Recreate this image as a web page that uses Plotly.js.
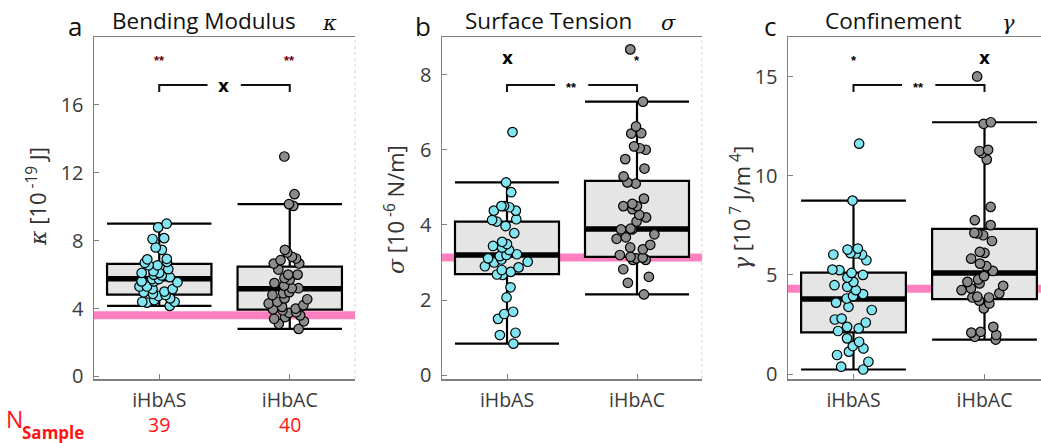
<!DOCTYPE html>
<html>
<head>
<meta charset="utf-8">
<script src="https://cdn.plot.ly/plotly-3.0.1.min.js"></script>
<style>html,body{margin:0;padding:0;background:#fff;} #chart{width:1041px;height:443px;}</style>
</head>
<body>
<div id="chart"></div>
<script>
// ---------------- DATA ----------------
const categories = ['iHbAS', 'iHbAC'];
const sampleCounts = [39, 40];

// Bending modulus kappa [1e-19 J]
const kappa_AS = [9.0, 8.78, 8.15, 8.1, 7.6, 7.46, 6.93, 6.9, 6.7, 6.75, 6.55, 6.55, 6.32, 6.1, 6.1, 6.0, 5.95, 5.74, 5.74, 5.6, 5.6, 5.55, 5.3, 5.3, 5.15, 5.15, 4.87, 4.8, 4.74, 4.6, 4.4, 4.4, 4.35, 4.16, 4.5, 5.0, 6.2, 5.85, 4.95];
const kappa_AC = [12.96, 10.74, 10.15, 10.05, 7.46, 7.3, 7.05, 6.95, 6.85, 6.65, 6.65, 6.0, 6.0, 5.8, 5.7, 5.35, 5.2, 5.2, 4.97, 4.9, 4.6, 4.55, 4.4, 4.3, 4.1, 4.0, 3.95, 3.78, 3.75, 3.6, 3.5, 3.4, 3.25, 3.1, 2.8, 5.5, 4.8, 3.9, 6.3, 4.2];
const kappaQ1 = [4.82, 3.94];
const kappaMedian = [5.75, 5.16];
const kappaQ3 = [6.63, 6.47];
const kappaLowerWhisker = [4.16, 2.8];
const kappaUpperWhisker = [9.0, 10.15];

// Surface tension sigma [1e-6 N/m]
const sigma_AS = [6.47, 5.13, 4.87, 4.5, 4.5, 4.47, 4.38, 4.38, 4.13, 4.09, 4.15, 3.97, 3.78, 3.49, 3.44, 3.4, 3.33, 3.22, 3.2, 3.17, 3.11, 3.08, 3.02, 2.9, 2.87, 2.8, 2.75, 2.68, 2.67, 2.34, 2.07, 1.69, 1.63, 1.5, 1.13, 1.07, 0.84, 3.0, 3.55];
const sigma_AC = [8.67, 7.28, 6.62, 6.44, 6.43, 6.04, 6.09, 6.0, 5.75, 5.29, 5.13, 5.1, 4.56, 4.5, 4.5, 4.42, 4.27, 4.2, 4.09, 3.9, 3.88, 3.88, 3.67, 3.63, 3.47, 3.4, 3.35, 3.2, 3.15, 3.13, 3.11, 3.07, 3.07, 2.82, 2.62, 2.46, 2.15, 4.7, 3.75, 5.5];
const sigmaQ1 = [2.69, 3.15];
const sigmaMedian = [3.2, 3.89];
const sigmaQ3 = [4.09, 5.17];
const sigmaLowerWhisker = [0.84, 2.15];
const sigmaUpperWhisker = [5.13, 7.28];

// Confinement gamma [1e7 J/m^4]
const gamma_AS = [11.62, 8.75, 6.33, 6.28, 6.08, 6.03, 6.03, 5.74, 5.27, 5.24, 5.1, 4.87, 4.65, 4.48, 4.23, 4.03, 3.81, 3.93, 3.39, 3.23, 2.8, 2.75, 2.3, 2.38, 2.17, 1.63, 1.41, 1.29, 1.13, 0.96, 0.62, 0.37, 0.23, 5.0, 3.6, 2.6, 1.8, 4.4, 6.1];
const gamma_AC = [15.01, 12.62, 12.7, 11.25, 11.31, 11.15, 10.82, 8.43, 7.76, 7.51, 7.12, 7.09, 7.0, 6.71, 6.16, 6.11, 5.82, 5.57, 5.44, 4.94, 4.77, 4.65, 4.57, 4.32, 4.23, 4.07, 3.9, 3.86, 3.86, 3.56, 3.31, 2.38, 2.13, 2.09, 1.97, 1.88, 1.74, 5.2, 4.45, 3.7];
const gammaQ1 = [2.1, 3.78];
const gammaMedian = [3.79, 5.1];
const gammaQ3 = [5.12, 7.32];
const gammaLowerWhisker = [0.23, 1.74];
const gammaUpperWhisker = [8.75, 12.7];

// Reference (pink) levels per panel
const referenceLevels = [3.6, 3.13, 4.3];

// Significance labels: above each group and between groups
const sigAbove = [['**', '**'], ['x', '*'], ['*', 'x']];
const sigBetween = ['x', '**', '**'];

const panelTitles = ['Bending Modulus', 'Surface Tension', 'Confinement'];
const panelSymbols = ['κ', 'σ', 'γ'];
const panelLetters = ['a', 'b', 'c'];
const yTickVals = [[0, 4, 8, 12, 16], [0, 2, 4, 6, 8], [0, 5, 10, 15]];

// ---------------- STYLE / LAYOUT ----------------
const W = 1041, H = 443;
const px = v => v / W;
const py = v => 1 - v / H;
const CYAN = 'rgb(128,229,240)';
const GREY = 'rgb(140,140,140)';
const BOXFILL = 'rgb(229,229,229)';
const PINK = 'rgb(255,128,190)';
const AXC = 'rgb(128,128,128)';
const FONT = 'Open Sans';

const panels = [
  {ax: '', as: kappa_AS, ac: kappa_AC, q1: kappaQ1, med: kappaMedian, q3: kappaQ3, lo: kappaLowerWhisker, hi: kappaUpperWhisker},
  {ax: '2', as: sigma_AS, ac: sigma_AC, q1: sigmaQ1, med: sigmaMedian, q3: sigmaQ3, lo: sigmaLowerWhisker, hi: sigmaUpperWhisker},
  {ax: '3', as: gamma_AS, ac: gamma_AC, q1: gammaQ1, med: gammaMedian, q3: gammaQ3, lo: gammaLowerWhisker, hi: gammaUpperWhisker}
];

const BW = 0.8;
const traces = [];
panels.forEach(p => {
  const xa = 'x' + p.ax, ya = 'y' + p.ax;
  traces.push({
    type: 'box', orientation: 'v', x: [1, 2], q1: p.q1, median: p.med, q3: p.q3,
    lowerfence: p.lo, upperfence: p.hi, width: BW, whiskerwidth: 1,
    fillcolor: BOXFILL, line: {color: '#000', width: 2.2}, boxpoints: false,
    xaxis: xa, yaxis: ya, showlegend: false, hoverinfo: 'skip'
  });
  traces.push({
    type: 'box', orientation: 'v', x: [1, 2], q1: p.med, median: p.med, q3: p.med,
    lowerfence: p.med, upperfence: p.med, width: BW, whiskerwidth: 0,
    fillcolor: 'rgba(0,0,0,0)', line: {color: '#000', width: 5.5}, boxpoints: false,
    xaxis: xa, yaxis: ya, showlegend: false, hoverinfo: 'skip'
  });
  [[p.as, 1, CYAN], [p.ac, 2, GREY]].forEach(([vals, pos, col]) => {
    traces.push({
      type: 'box', orientation: 'v', y: vals, x0: pos, width: BW,
      boxpoints: 'all', jitter: 0.45, pointpos: 0,
      fillcolor: 'rgba(0,0,0,0)', line: {color: 'rgba(0,0,0,0)', width: 0},
      marker: {color: col, size: 9.5, line: {color: '#000', width: 1.2}},
      xaxis: xa, yaxis: ya, showlegend: false, hoverinfo: 'y'
    });
  });
});

// panel pixel geometry
const xDomPx = [[94, 355], [442, 702], [788, 1041]];
const xRanges = [[0.5, 2.5], [0.5, 2.5], [0.5, 0.5 + (1041 - 788) / 131]];
const yRanges = [[-0.15, 20], [-0.1, 9], [-0.25, 17]];
const yDom = [py(379), py(37)];

const layout = {
  width: W, height: H, margin: {l: 0, r: 0, t: 0, b: 0},
  paper_bgcolor: '#fff', plot_bgcolor: '#fff',
  boxmode: 'overlay', showlegend: false,
  font: {family: FONT, size: 18, color: '#333'},
  shapes: [], annotations: []
};

for (let i = 0; i < 3; i++) {
  const s = i === 0 ? '' : String(i + 1);
  layout['xaxis' + s] = {
    domain: [px(xDomPx[i][0]), px(xDomPx[i][1])], range: xRanges[i],
    anchor: 'y' + s, tickmode: 'array', tickvals: [1, 2], ticktext: categories,
    ticks: 'inside', ticklen: 5, tickcolor: AXC, tickwidth: 1,
    showline: true, linecolor: AXC, linewidth: 1.5, mirror: true,
    showgrid: false, zeroline: false, fixedrange: true,
    tickfont: {family: FONT, size: 19.5, color: '#3a3a3a'}, ticklabelstandoff: 3
  };
  layout['yaxis' + s] = {
    domain: yDom, range: yRanges[i], anchor: 'x' + s,
    tickmode: 'array', tickvals: yTickVals[i],
    ticks: 'inside', ticklen: 5, tickcolor: AXC, tickwidth: 1,
    showline: true, linecolor: AXC, linewidth: 1.5, mirror: false,
    showgrid: false, zeroline: false, fixedrange: true,
    tickfont: {family: FONT, size: 20, color: '#3a3a3a'}, ticklabelstandoff: 5
  };
  const xr = 'x' + s, yr = 'y' + s;
  // pink reference level
  layout.shapes.push({type: 'line', xref: xr + ' domain', yref: yr, x0: 0, x1: 1,
    y0: referenceLevels[i], y1: referenceLevels[i], line: {color: PINK, width: 8}, layer: 'below'});
  // right border (faint)
  if (i < 2) layout.shapes.push({type: 'line', xref: xr + ' domain', yref: yr + ' domain', x0: 1, x1: 1, y0: 0, y1: 1,
    line: {color: 'rgba(200,170,170,0.6)', width: 1, dash: 'dot'}});
  // bracket
  const yt = py(85), yb = py(92);
  layout.shapes.push({type: 'path', xref: xr, yref: 'paper',
    path: `M 1,${yb} L 1,${yt} L 1.37,${yt}`, line: {color: '#111', width: 2}});
  layout.shapes.push({type: 'path', xref: xr, yref: 'paper',
    path: `M 1.625,${yt} L 2,${yt} L 2,${yb}`, line: {color: '#111', width: 2}});
  // significance texts
  [0, 1].forEach(k => {
    const lab = sigAbove[i][k];
    const isRed = (i === 0);
    layout.annotations.push({xref: xr, yref: 'paper', x: k + 1, y: lab === 'x' ? py(58) : py(61),
      text: '<b>' + lab + '</b>', showarrow: false,
      font: {family: lab === 'x' ? 'DejaVu Sans' : 'Liberation Sans', size: lab === 'x' ? 17 : 13, color: isRed ? 'rgb(110,0,0)' : '#000'},
      xanchor: 'center', yanchor: 'middle'});
  });
  const lb = sigBetween[i];
  layout.annotations.push({xref: xr, yref: 'paper', x: 1.495, y: lb === 'x' ? py(86) : py(88),
    text: '<b>' + lb + '</b>', showarrow: false,
    font: {family: lb === 'x' ? 'DejaVu Sans' : 'Liberation Sans', size: lb === 'x' ? 17 : 13, color: '#000'},
    xanchor: 'center', yanchor: 'middle'});
}

// Titles, letters, symbols
const titleX = [204, 548, 893];
const symX = [329, 668, 1008];
const letterX = [75, 423, 770];
for (let i = 0; i < 3; i++) {
  layout.annotations.push({xref: 'paper', yref: 'paper', x: px(titleX[i]), y: py(21), text: panelTitles[i],
    showarrow: false, xanchor: 'center', yanchor: 'middle', font: {family: FONT, size: 22.5, color: '#111'}});
  layout.annotations.push({xref: 'paper', yref: 'paper', x: px(symX[i]), y: py(23), text: '<i>' + panelSymbols[i] + '</i>',
    showarrow: false, xanchor: 'center', yanchor: 'middle', font: {family: 'DejaVu Serif', size: 21, color: '#111'}});
  layout.annotations.push({xref: 'paper', yref: 'paper', x: px(letterX[i]), y: py(26), text: panelLetters[i],
    showarrow: false, xanchor: 'center', yanchor: 'middle', font: {family: FONT, size: 26, color: '#111'}});
}

// y-axis titles
const yTitles = [
  '<span style="font-family:DejaVu Serif"><i>κ</i></span> [10<sup> -19</sup> J]',
  '<span style="font-family:DejaVu Serif"><i>σ</i></span> [10<sup> -6</sup> N/m]',
  '<span style="font-family:DejaVu Serif"><i>γ</i></span> [10<sup> 7</sup> J/m<sup> 4</sup>]'
];
const yTitleX = [36, 394, 740];
const yTitleY = [197, 210, 208];
for (let i = 0; i < 3; i++) {
  layout.annotations.push({xref: 'paper', yref: 'paper', x: px(yTitleX[i]), y: py(yTitleY[i]), text: yTitles[i],
    textangle: -90, showarrow: false, xanchor: 'center', yanchor: 'middle',
    font: {family: FONT, size: 22, color: '#333'}});
}

// Sample counts
layout.annotations.push({xref: 'paper', yref: 'paper', x: px(14), y: py(419), text: 'N', showarrow: false,
  xanchor: 'center', yanchor: 'middle', font: {family: FONT, size: 23, color: 'rgb(255,20,20)'}});
layout.annotations.push({xref: 'paper', yref: 'paper', x: px(53), y: py(432), text: '<b>Sample</b>', showarrow: false,
  xanchor: 'center', yanchor: 'middle', font: {family: FONT, size: 17, color: 'rgb(255,20,20)'}});
[0, 1].forEach(k => {
  layout.annotations.push({xref: 'x', yref: 'paper', x: k + 1, y: py(424), text: String(sampleCounts[k]),
    showarrow: false, xanchor: 'center', yanchor: 'middle', font: {family: FONT, size: 19.5, color: 'rgb(255,20,20)'}});
});

Plotly.newPlot('chart', traces, layout, {staticPlot: true, displayModeBar: false});
</script>
</body>
</html>
